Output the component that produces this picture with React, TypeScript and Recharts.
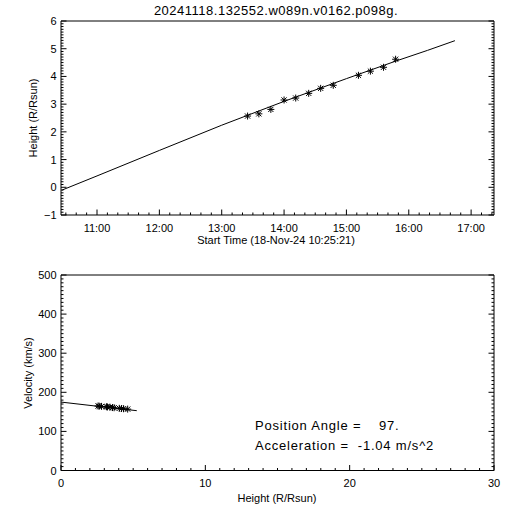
import React from "react";
import { ComposedChart, Scatter, XAxis, YAxis } from "recharts";

// time axis runs 25000 s from the start time 10:25:21
const startTime = 10 + 25 / 60 + 21 / 3600;
const endTime = startTime + 25000 / 3600;

// height-time measurements (hours, R/Rsun)
const obsTimes = [13.415, 13.596, 13.788, 14.0, 14.187, 14.395, 14.587, 14.789, 15.193, 15.385, 15.595, 15.789];
const obsHeights = [2.57, 2.65, 2.81, 3.15, 3.22, 3.39, 3.57, 3.68, 4.04, 4.19, 4.33, 4.62];

// fitted height curve
const fitTimes = [10.44, 11, 12, 13, 14, 15, 15.8, 16.3, 16.74];
const fitHeights = [-0.1, 0.41, 1.33, 2.24, 3.1, 3.92, 4.56, 4.94, 5.29];

// velocity vs height
const obsVelocities = [165, 164.5, 164, 163, 162.5, 162, 161, 160.5, 159, 158.5, 158, 157];
const fitVelHeights = [0, 2.6, 5.25];
const fitVelocities = [175, 164, 153];

const hourTicks = [11, 12, 13, 14, 15, 16, 17];
const heightTicks = [-1, 0, 1, 2, 3, 4, 5, 6];
const velTicks = [0, 100, 200, 300, 400, 500];
const distTicks = [0, 10, 20, 30];

const title = "20241118.132552.w089n.v0162.p098g.";
const positionAngle = "97.";
const acceleration = "-1.04";

const FONT = "'Liberation Sans', Arial, sans-serif";

const heightData = obsTimes.map((t, i) => ({ x: t, y: obsHeights[i] }));
const heightFit = fitTimes.map((t, i) => ({ x: t, y: fitHeights[i] }));
const velData = obsHeights.map((h, i) => ({ x: h, y: obsVelocities[i] }));
const velFit = fitVelHeights.map((h, i) => ({ x: h, y: fitVelocities[i] }));

// minor ticks: every 10 min, every 0.1 R, every 1 R, every 10 km/s
const timeMinor: number[] = [];
for (let i = 63; i <= 104; i++) timeMinor.push(i / 6);
const heightMinor: number[] = [];
for (let i = -10; i <= 60; i++) heightMinor.push(i / 10);
const distMinor: number[] = [];
for (let i = 0; i <= 30; i++) distMinor.push(i);
const velMinor: number[] = [];
for (let i = 0; i <= 50; i++) velMinor.push(i * 10);

const isMajor = (v: number, majors: number[]) => majors.some((m) => Math.abs(m - v) < 1e-6);
const fmt = (v: number) => (v < 0 ? "\u2212" + Math.abs(v) : String(v));

function Star(props: any) {
  const { cx, cy } = props;
  return (
    <g stroke="#000" strokeWidth={1}>
      <line x1={cx - 3.5} y1={cy} x2={cx + 3.5} y2={cy} />
      <line x1={cx} y1={cy - 3.5} x2={cx} y2={cy + 3.5} />
      <line x1={cx - 2.6} y1={cy - 2.6} x2={cx + 2.6} y2={cy + 2.6} />
      <line x1={cx - 2.6} y1={cy + 2.6} x2={cx + 2.6} y2={cy - 2.6} />
    </g>
  );
}

const NoDot = () => <g />;

function makeTick(side: "bottom" | "top" | "left" | "right", majors: number[], label?: (v: number) => string, dyLabel = 16) {
  return (p: any) => {
    const { x, y, payload } = p;
    const v = payload.value;
    const major = isMajor(v, majors);
    const len = major ? 5.5 : 2.5;
    let line;
    if (side === "bottom") line = <line x1={x} y1={y} x2={x} y2={y - len} />;
    else if (side === "top") line = <line x1={x} y1={y} x2={x} y2={y + len} />;
    else if (side === "left") line = <line x1={x} y1={y} x2={x + len} y2={y} />;
    else line = <line x1={x} y1={y} x2={x - len} y2={y} />;
    return (
      <g>
        <g stroke="#000" strokeWidth={1}>{line}</g>
        {major && label && side === "bottom" && (
          <text x={x} y={y + dyLabel} textAnchor="middle" fontSize={11} fontFamily={FONT} fill="#000">
            {label(v)}
          </text>
        )}
        {major && label && side === "left" && (
          <text x={x - 4.5} y={y + 4} textAnchor="end" fontSize={11} fontFamily={FONT} fill="#000">
            {label(v)}
          </text>
        )}
      </g>
    );
  };
}

const axisCommon = {
  tickSize: 0,
  tickMargin: 0,
  tickLine: false,
  interval: 0 as const,
  allowDataOverflow: true,
  stroke: "#000",
};

export default function App() {
  return (
    <div style={{ position: "absolute", left: 0, top: 0, width: 512, height: 512, background: "#fff" }}>
      <div style={{ position: "absolute", left: 0, top: 0 }}>
        <ComposedChart width={512} height={256} margin={{ top: 20, right: 17, bottom: 40, left: 60 }}>
          <XAxis
            {...axisCommon}
            type="number"
            dataKey="x"
            domain={[startTime, endTime]}
            ticks={timeMinor}
            height={1}
            tick={makeTick("bottom", hourTicks, (v) => `${v}:00`, 17)}
          />
          <XAxis
            {...axisCommon}
            xAxisId="top"
            orientation="top"
            type="number"
            domain={[startTime, endTime]}
            ticks={timeMinor}
            height={1}
            tick={makeTick("top", hourTicks)}
          />
          <YAxis
            {...axisCommon}
            type="number"
            dataKey="y"
            domain={[-1, 6]}
            ticks={heightMinor}
            width={1}
            tick={makeTick("left", heightTicks, fmt)}
          />
          <YAxis
            {...axisCommon}
            yAxisId="right"
            orientation="right"
            type="number"
            domain={[-1, 6]}
            ticks={heightMinor}
            width={1}
            tick={makeTick("right", heightTicks)}
          />
          <Scatter data={heightFit} line={{ stroke: "#000", strokeWidth: 1 }} shape={NoDot} isAnimationActive={false} />
          <Scatter data={heightData} shape={Star} isAnimationActive={false} />
        </ComposedChart>
      </div>
      <div style={{ position: "absolute", left: 0, top: 256 }}>
        <ComposedChart width={512} height={256} margin={{ top: 18, right: 17, bottom: 40.5, left: 60 }}>
          <XAxis
            {...axisCommon}
            type="number"
            dataKey="x"
            domain={[0, 30]}
            ticks={distMinor}
            height={1}
            tick={makeTick("bottom", distTicks, (v) => String(v), 16)}
          />
          <XAxis
            {...axisCommon}
            xAxisId="top"
            orientation="top"
            type="number"
            domain={[0, 30]}
            ticks={distMinor}
            height={1}
            tick={makeTick("top", distTicks)}
          />
          <YAxis
            {...axisCommon}
            type="number"
            dataKey="y"
            domain={[0, 500]}
            ticks={velMinor}
            width={1}
            tick={makeTick("left", velTicks, fmt)}
          />
          <YAxis
            {...axisCommon}
            yAxisId="right"
            orientation="right"
            type="number"
            domain={[0, 500]}
            ticks={velMinor}
            width={1}
            tick={makeTick("right", velTicks)}
          />
          <Scatter data={velFit} line={{ stroke: "#000", strokeWidth: 1 }} shape={NoDot} isAnimationActive={false} />
          <Scatter data={velData} shape={Star} isAnimationActive={false} />
        </ComposedChart>
      </div>
      <svg
        width={512}
        height={512}
        style={{ position: "absolute", left: 0, top: 0, pointerEvents: "none" }}
        fontFamily={FONT}
        fill="#000"
      >
        <text x={276} y={15} textAnchor="middle" fontSize={13} letterSpacing={0.5}>
          {title}
        </text>
        <text x={276} y={244} textAnchor="middle" fontSize={11}>
          Start Time (18-Nov-24 10:25:21)
        </text>
        <text transform="translate(36.5,118) rotate(-90)" textAnchor="middle" fontSize={11}>
          Height (R/Rsun)
        </text>
        <text x={277} y={502} textAnchor="middle" fontSize={11}>
          Height (R/Rsun)
        </text>
        <text transform="translate(32,373) rotate(-90)" textAnchor="middle" fontSize={11}>
          Velocity (km/s)
        </text>
        <text x={255} y={430} fontSize={13} letterSpacing={0.8} style={{ whiteSpace: "pre" }}>
          {`Position Angle =    ${positionAngle}`}
        </text>
        <text x={255} y={450} fontSize={13} letterSpacing={0.8} style={{ whiteSpace: "pre" }}>
          {`Acceleration =  ${acceleration} m/s^2`}
        </text>
      </svg>
    </div>
  );
}
